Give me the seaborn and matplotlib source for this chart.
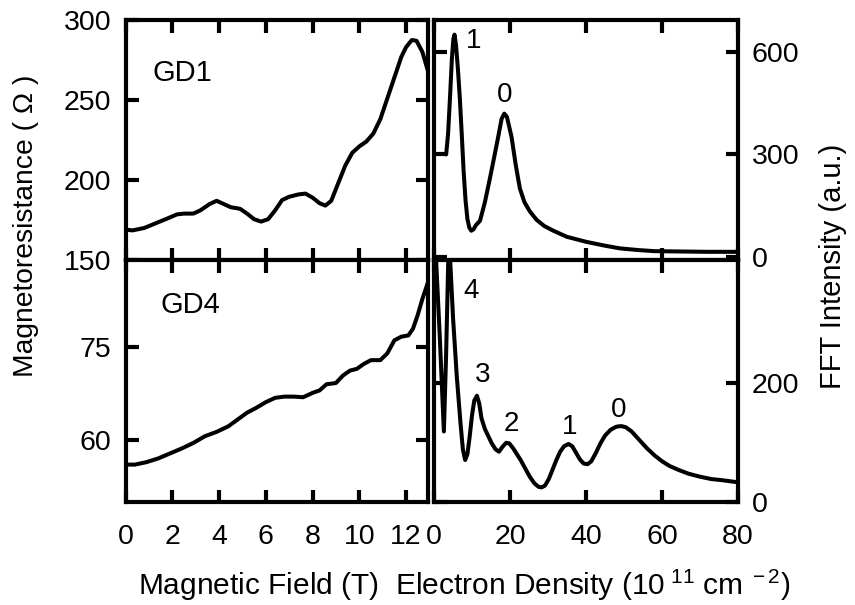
import numpy as np
import pandas as pd
import matplotlib
matplotlib.use("Agg")
import matplotlib.pyplot as plt
import seaborn as sns

# ---------------- data ----------------
gd1_field = [0.0, 0.3, 0.8, 1.3, 1.8, 2.2, 2.5, 2.9, 3.2, 3.6, 3.9, 4.2, 4.5, 4.9, 5.2, 5.5, 5.8,
             6.1, 6.4, 6.7, 7.0, 7.4, 7.7, 8.0, 8.3, 8.55, 8.8, 9.1, 9.4, 9.7, 10.0, 10.3, 10.6,
             10.9, 11.2, 11.5, 11.8, 12.0, 12.25, 12.45, 12.7, 12.94]
gd1_res = [169, 168.5, 170, 173, 176, 178.5, 179, 179, 181, 185, 187, 185, 183, 182, 179, 175.5, 174,
           175.5, 181, 187.5, 189.5, 191, 191.5, 189, 185.5, 184, 187, 198, 209, 217, 221, 224, 229,
           238, 251, 264, 277, 283, 287.5, 287, 280, 268]

gd4_field = [0.0, 0.4, 0.9, 1.4, 1.9, 2.4, 2.9, 3.4, 3.9, 4.4, 4.8, 5.2, 5.6, 6.0, 6.4, 6.8, 7.2,
             7.6, 8.0, 8.3, 8.6, 9.0, 9.3, 9.6, 9.9, 10.2, 10.5, 10.9, 11.2, 11.5, 11.8, 12.1,
             12.3, 12.5, 12.7, 12.94]
gd4_res = [56.0, 56.0, 56.4, 57.0, 57.8, 58.6, 59.5, 60.6, 61.3, 62.2, 63.3, 64.4, 65.2, 66.1, 66.8,
           67.0, 67.0, 66.9, 67.6, 68.0, 69.0, 69.2, 70.4, 71.2, 71.5, 72.3, 72.9, 72.9, 74.0,
           76.1, 76.7, 76.9, 78.0, 80.2, 82.8, 85.5]

gd1_density = [3.2, 3.7, 4.2, 4.7, 5.1, 5.4, 5.8, 6.3, 6.8, 7.3, 7.8, 8.3, 8.8, 9.3, 9.8, 10.4,
               11.0, 12.1, 13.4, 14.7, 15.8, 16.9, 17.8, 18.5, 19.2, 20.4, 21.5, 22.6, 23.8,
               25.2, 27.0, 29.0, 31.4, 35.0, 40.2, 45.0, 49.0, 54.0, 58.0, 65.0, 72.0, 79.5]
gd1_fft = [300, 360, 465, 580, 640, 652, 620, 550, 465, 360, 250, 165, 110, 85, 76, 80,
           92, 105, 160, 229, 290, 352, 405, 420, 410, 352, 270, 200, 160,
           133, 108, 90, 76, 58, 43, 32, 24, 19, 16, 15, 14, 14]

gd4_density = [0.3, 1.5, 2.6, 3.2, 3.8, 4.0, 4.3, 5.0, 6.0, 7.0, 7.6, 8.2, 8.8, 9.4, 10.0, 10.6,
               11.3, 11.9, 12.5, 13.4, 14.3, 15.2, 16.2, 17.1, 18.0, 19.0, 19.8, 20.8, 21.8,
               22.8, 24.0, 25.2, 26.4, 27.5, 28.3, 29.2, 30.2, 31.2, 32.2, 33.2, 34.2, 35.4,
               36.4, 37.4, 38.4, 39.4, 40.4, 41.4, 42.6, 43.8, 45.0, 46.5, 48.0, 49.3, 50.5,
               52.0, 54.0, 56.0, 58.0, 60.0, 62.0, 64.5, 67.0, 70.0, 73.0, 76.0, 79.5]
gd4_fft = [440, 280, 118, 250, 420, 440, 400, 310, 210, 130, 88, 70, 80, 110, 145, 170,
           178, 165, 140, 122, 110, 98, 88, 84, 92, 99, 98, 90, 80,
           70, 56, 42, 31, 25, 24, 27, 38, 54, 70, 84, 93, 97,
           93, 82, 71, 64, 63, 68, 82, 98, 111, 121, 126, 127, 125,
           118, 104, 90, 78, 68, 60, 53, 47, 42, 38, 36, 33]

field_ticks = [0, 2, 4, 6, 8, 10, 12]
density_ticks = [0, 20, 40, 60, 80]
gd1_res_ticks = [150, 200, 250, 300]
gd4_res_ticks = [60, 75]
gd1_fft_ticks = [0, 300, 600]
gd4_fft_ticks = [0, 200]

top_peak_labels = ["1", "0"]
top_peak_x = [10.35, 18.5]
top_peak_y = [633, 476]
bot_peak_labels = ["4", "3", "2", "1", "0"]
bot_peak_x = [9.9, 12.7, 20.3, 35.8, 48.7]
bot_peak_y = [354, 212, 130, 126, 154]

# ---------------- style ----------------
sns.set_style("white")
plt.rcParams['font.family'] = ['Liberation Sans', 'DejaVu Sans']
plt.rcParams['mathtext.fontset'] = 'custom'
plt.rcParams['mathtext.rm'] = 'Liberation Sans'
plt.rcParams['mathtext.it'] = 'Liberation Sans:italic'
plt.rcParams['mathtext.bf'] = 'Liberation Sans:bold'
plt.rcParams['axes.unicode_minus'] = False
plt.rcParams['text.color'] = 'black'
plt.rcParams['axes.labelcolor'] = 'black'
plt.rcParams['xtick.color'] = 'black'
plt.rcParams['ytick.color'] = 'black'

W, H = 855, 605
fig = plt.figure(figsize=(W / 100, H / 100), dpi=100)


def rect(x0, x1, y0, y1):
    return [x0 / W, 1 - y1 / H, (x1 - x0) / W, (y1 - y0) / H]


ax_tl = fig.add_axes(rect(125.5, 428, 20, 260))
ax_bl = fig.add_axes(rect(125.5, 428, 260, 501.7))
ax_tr = fig.add_axes(rect(434, 738, 20, 260))
ax_br = fig.add_axes(rect(434, 738, 260, 501.7))

LW = 2.9
TICK = 20.5
for ax in (ax_tl, ax_bl, ax_tr, ax_br):
    for s in ax.spines.values():
        s.set_linewidth(3.0)
        s.set_color('black')
    ax.tick_params(direction='in', length=9, width=3, top=True, bottom=True,
                   left=True, right=True, labelsize=TICK, colors='black')
    ax.tick_params(axis='x', pad=16)
    ax.tick_params(axis='y', pad=10)

sns.lineplot(x=gd1_field, y=gd1_res, ax=ax_tl, sort=False, estimator=None, color='black', linewidth=LW)
sns.lineplot(x=gd4_field, y=gd4_res, ax=ax_bl, sort=False, estimator=None, color='black', linewidth=LW)
sns.lineplot(x=gd1_density, y=gd1_fft, ax=ax_tr, sort=False, estimator=None, color='black', linewidth=LW)
sns.lineplot(x=gd4_density, y=gd4_fft, ax=ax_br, sort=False, estimator=None, color='black', linewidth=LW)

for ax in (ax_tl, ax_bl):
    ax.set_xlim(0, 12.94)
    ax.set_xticks(field_ticks)
ax_tl.set_ylim(150, 300)
ax_tl.set_yticks(gd1_res_ticks)
ax_bl.set_ylim(50, 89.1)
ax_bl.set_yticks(gd4_res_ticks)

for ax in (ax_tr, ax_br):
    ax.set_xlim(0, 80)
    ax.set_xticks(density_ticks)
    ax.tick_params(labelleft=False, labelright=True)
ax_tr.set_ylim(-10, 695)
ax_tr.set_yticks(gd1_fft_ticks)
ax_br.set_ylim(0, 406)
ax_br.set_yticks(gd4_fft_ticks)

for ax in (ax_tl, ax_tr):
    ax.tick_params(labelbottom=False)
for ax in (ax_tl, ax_bl, ax_tr, ax_br):
    ax.set_xlabel('')
    ax.set_ylabel('')

ax_tl.text(1.15, 267, "GD1", fontsize=21, ha='left', va='center')
ax_bl.text(1.5, 81.8, "GD4", fontsize=21, ha='left', va='center')
for t, x, y in zip(top_peak_labels, top_peak_x, top_peak_y):
    ax_tr.text(x, y, t, fontsize=20, ha='center', va='center')
for t, x, y in zip(bot_peak_labels, bot_peak_x, bot_peak_y):
    ax_br.text(x, y, t, fontsize=20, ha='center', va='center')

fig.text(138 / W, 1 - 595 / H, "Magnetic Field (T)  Electron Density (10$^{\\ 11}$ cm$^{\\ -2}$)",
         fontsize=21.5, ha='left', va='baseline')
fig.text(26 / W, 1 - 226 / H, "Magnetoresistance ( \u03a9 )", fontsize=20.3, rotation=90,
         ha='center', va='center')
fig.text(833 / W, 1 - 266 / H, "FFT Intensity (a.u.)", fontsize=21, rotation=90,
         ha='center', va='center')

fig.savefig("out.png", dpi=100, facecolor='white')
